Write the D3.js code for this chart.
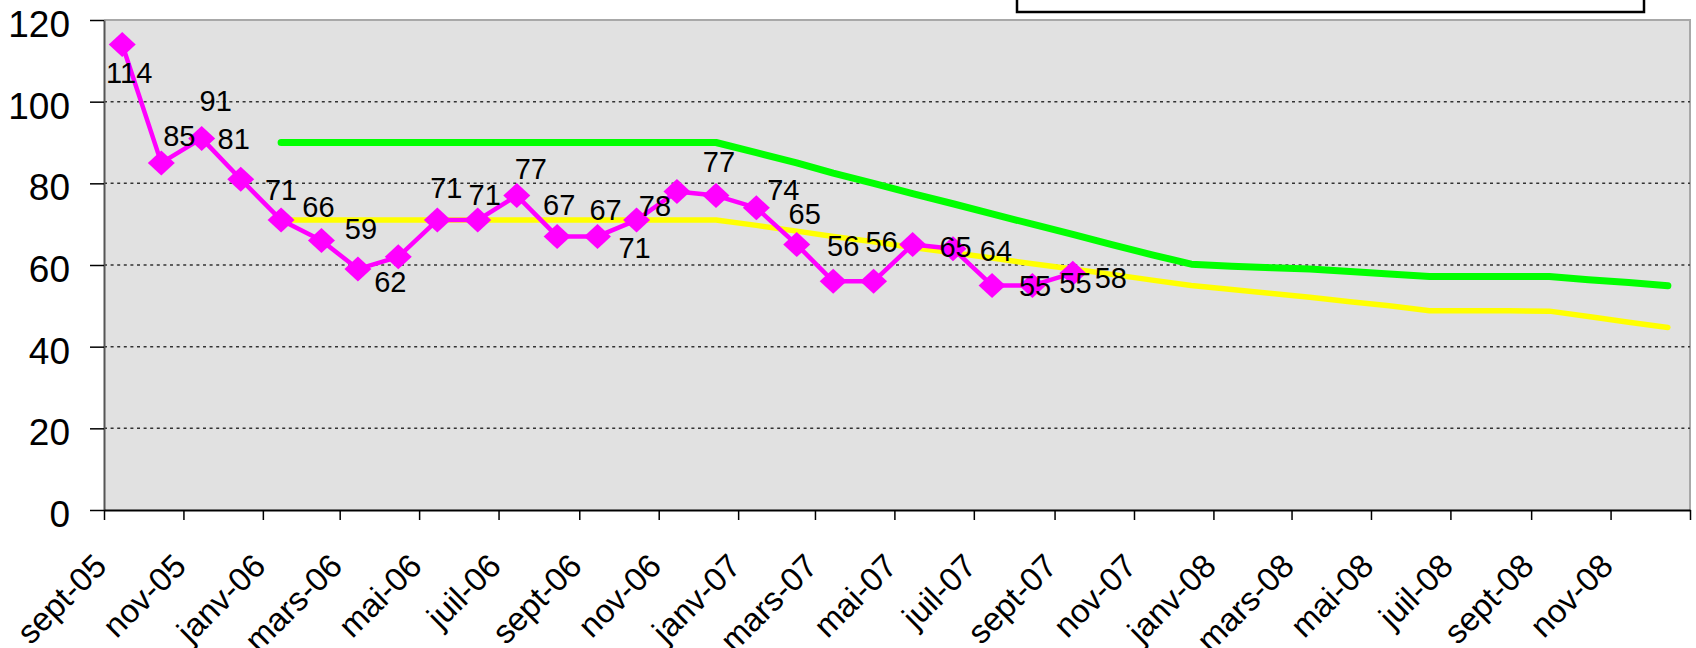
<!DOCTYPE html>
<html>
<head>
<meta charset="utf-8">
<script src="https://cdn.jsdelivr.net/npm/d3@7"></script>
<style>
  body { margin: 0; background: #fff; }
  svg { display: block; font-family: "Liberation Sans", Arial, sans-serif; }
</style>
</head>
<body>
<div id="chart"></div>
<script>
// monthly measurements (points sit mid-month)
var pinkMonths = ["2005-09","2005-10","2005-11","2005-12","2006-01","2006-02","2006-03","2006-04",
  "2006-05","2006-06","2006-07","2006-08","2006-09","2006-10","2006-11","2006-12","2007-01",
  "2007-02","2007-03","2007-04","2007-05","2007-06","2007-07","2007-08","2007-09"];
var pinkValues = [114,85,91,81,71,66,59,62,71,71,77,67,67,71,78,77,74,65,56,56,65,64,55,55,58];

// objective lines
var targetMonths = ["2006-01","2006-02","2006-03","2006-04","2006-05","2006-06","2006-07","2006-08",
  "2006-09","2006-10","2006-11","2006-12","2007-01","2007-02","2007-03","2007-04","2007-05",
  "2007-06","2007-07","2007-08","2007-09","2007-10","2007-11","2007-12","2008-01","2008-02",
  "2008-03","2008-04","2008-05","2008-06","2008-07","2008-08","2008-09","2008-10","2008-11","2008-12"];
var greenValues = [90,90,90,90,90,90,90,90,90,90,90,90,
  87.5,85,82.5,80,77.5,75,72.5,70,67.5,65,62.5,60.2,
  59.7,59.3,59,58.4,57.8,57.2,57.2,57.2,57.2,56.4,55.7,54.9];
var yellowValues = [71,71,71,71,71,71,71,71,71,71,71,71,
  69.7,68.3,67,65.7,64.3,63,61.7,60.3,59,57.7,56.3,55,
  54,53,52.1,51,50,48.8,48.8,48.8,48.7,47.4,46,44.7];

var yTicks = [0,20,40,60,80,100,120];
var xTickLabels = ["sept-05","nov-05","janv-06","mars-06","mai-06","juil-06","sept-06","nov-06",
  "janv-07","mars-07","mai-07","juil-07","sept-07","nov-07","janv-08","mars-08","mai-08",
  "juil-08","sept-08","nov-08"];

// where each pink value label sits relative to its marker
var labelOffsets = [[7,28],[18,-27],[14,-38],[-7,-41],[0,-31],[-3,-34],[3,-41],[-8,25],[9,-33],
  [7,-26],[14,-27],[2,-32],[8,-27],[-2,27],[-22,14],[3,-34],[27,-18],[8,-31],[10,-36],[8,-40],
  [43,2],[43,2],[43,0],[43,-3],[38,4]];

(function(){

    var W = 1696, H = 648;
    var mLeft = 104, mRight = 1690, mTop = 20, mBottom = 510;

    var parseMonth = d3.timeParse("%Y-%m");
    function mid(m) { var d = parseMonth(m); d.setDate(15); return d; }

    var svg = d3.select("#chart").append("svg")
        .attr("width", W)
        .attr("height", H);

    svg.append("rect").attr("width", W).attr("height", H).attr("fill", "#fff");

    var x = d3.scaleTime()
        .domain([new Date(2005, 8, 1), new Date(2009, 0, 1)])
        .range([mLeft, mRight]);
    var y = d3.scaleLinear()
        .domain([0, 120])
        .range([mBottom, mTop]);

    // plot area
    svg.append("rect")
        .attr("x", mLeft).attr("y", mTop)
        .attr("width", mRight - mLeft).attr("height", mBottom - mTop)
        .attr("fill", "#e1e1e1");
    svg.append("path")
        .attr("d", "M" + mLeft + "," + mTop + "H" + mRight + "V" + mBottom)
        .attr("fill", "none")
        .attr("stroke", "#a8a8a8")
        .attr("stroke-width", 2);

    // dotted gridlines
    svg.append("g").selectAll("line")
        .data(yTicks.filter(function(t){ return t > 0 && t < 120; }))
        .join("line")
        .attr("x1", mLeft).attr("x2", mRight)
        .attr("y1", function(d){ return y(d); })
        .attr("y2", function(d){ return y(d); })
        .attr("stroke", "#333")
        .attr("stroke-width", 1.5)
        .attr("stroke-dasharray", "3,3.6");

    // y axis
    var yAxis = svg.append("g")
        .attr("transform", "translate(" + mLeft + ",0)")
        .call(d3.axisLeft(y).tickValues(yTicks).tickSize(14).tickPadding(20).tickSizeOuter(0));
    yAxis.select(".domain").attr("stroke", "#555").attr("stroke-width", 2);
    yAxis.selectAll(".tick line").attr("stroke", "#000").attr("stroke-width", 1.5);
    yAxis.selectAll(".tick text")
        .attr("font-size", 37)
        .attr("font-family", "Liberation Sans, Arial, sans-serif")
        .attr("fill", "#000")
        .attr("dy", "0.45em");

    // x axis, one tick every two months
    var xTicks = d3.timeMonth.every(2).range(new Date(2005, 8, 1), new Date(2009, 0, 2));
    var xAxis = svg.append("g")
        .attr("transform", "translate(0," + mBottom + ")")
        .call(d3.axisBottom(x).tickValues(xTicks).tickSize(10).tickSizeOuter(0)
          .tickFormat(function(d, i){ return xTickLabels[i] || ""; }));
    xAxis.select(".domain").attr("stroke", "#000").attr("stroke-width", 2);
    xAxis.selectAll(".tick line").attr("stroke", "#000").attr("stroke-width", 1.5);
    xAxis.selectAll(".tick text")
        .attr("font-size", 33)
        .attr("font-family", "Liberation Sans, Arial, sans-serif")
        .attr("fill", "#000")
        .attr("text-anchor", "end")
        .attr("y", 0).attr("dy", 0)
        .attr("transform", "translate(4,58) rotate(-45)");

    var greenData = targetMonths.map(function(m, i){ return {date: mid(m), v: greenValues[i]}; });
    var yellowData = targetMonths.map(function(m, i){ return {date: mid(m), v: yellowValues[i]}; });
    var pinkData = pinkMonths.map(function(m, i){ return {date: mid(m), v: pinkValues[i]}; });

    var line = d3.line()
        .x(function(d){ return x(d.date); })
        .y(function(d){ return y(d.v); });

    svg.append("path")
        .datum(yellowData)
        .attr("d", line)
        .attr("fill", "none")
        .attr("stroke", "#ffff00")
        .attr("stroke-width", 5.5)
        .attr("stroke-linecap", "round")
        .attr("stroke-linejoin", "round");

    svg.append("path")
        .datum(greenData)
        .attr("d", line)
        .attr("fill", "none")
        .attr("stroke", "#00ff00")
        .attr("stroke-width", 7)
        .attr("stroke-linecap", "round")
        .attr("stroke-linejoin", "round");

    // measured series
    svg.append("path")
        .datum(pinkData)
        .attr("d", line)
        .attr("fill", "none")
        .attr("stroke", "#ff00ff")
        .attr("stroke-width", 4.5)
        .attr("stroke-linejoin", "round");

    svg.append("g").selectAll("path")
        .data(pinkData)
        .join("path")
        .attr("transform", function(d){ return "translate(" + x(d.date) + "," + y(d.v) + ")"; })
        .attr("d", "M0,-12.5L13.5,0L0,12.5L-13.5,0Z")
        .attr("fill", "#ff00ff");

    svg.append("g").selectAll("text")
        .data(pinkData)
        .join("text")
        .attr("x", function(d, i){ return x(d.date) + labelOffsets[i][0]; })
        .attr("y", function(d, i){ return y(d.v) + labelOffsets[i][1]; })
        .attr("text-anchor", "middle")
        .attr("dy", "0.36em")
        .attr("font-size", 29)
        .attr("fill", "#000")
        .text(function(d){ return d3.format("d")(d.v); });

    // legend frame (cut off at the top)
    svg.append("rect")
        .attr("x", 1017).attr("y", -10)
        .attr("width", 627).attr("height", 22)
        .attr("fill", "#fff")
        .attr("stroke", "#000")
        .attr("stroke-width", 2.5);

})();
</script>
</body>
</html>
